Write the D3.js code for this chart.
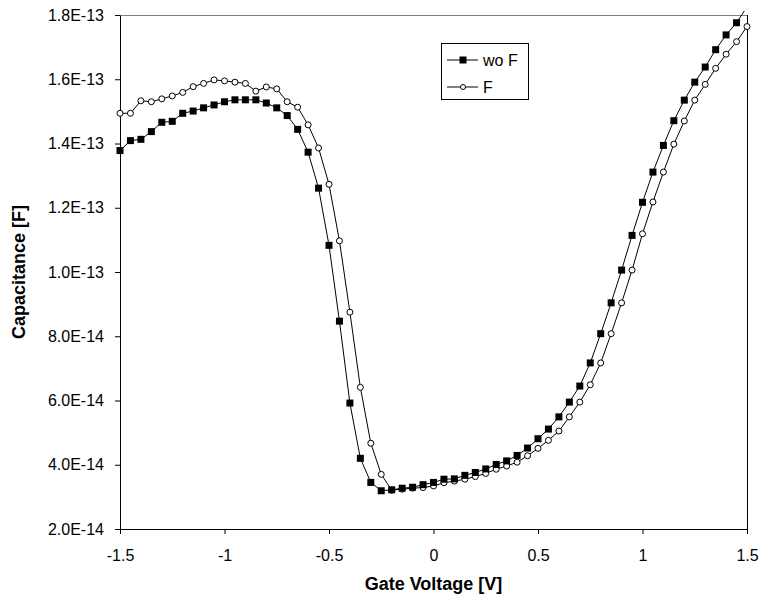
<!DOCTYPE html>
<html>
<head>
<meta charset="utf-8">
<script src="https://cdn.jsdelivr.net/npm/d3@7"></script>
<style>
  html, body { margin: 0; padding: 0; background: #fff; }
  svg { display: block; }
  text { font-family: Arial, "Liberation Sans", sans-serif; }
</style>
</head>
<body>
<svg id="chart" width="759" height="604"></svg>
<script>
// ---- data ----
const voltage = [-1.50,-1.45,-1.40,-1.35,-1.30,-1.25,-1.20,-1.15,-1.10,-1.05,
                 -1.00,-0.95,-0.90,-0.85,-0.80,-0.75,-0.70,-0.65,-0.60,-0.55,
                 -0.50,-0.45,-0.40,-0.35,-0.30,-0.25,-0.20,-0.15,-0.10,-0.05,
                  0.00, 0.05, 0.10, 0.15, 0.20, 0.25, 0.30, 0.35, 0.40, 0.45,
                  0.50, 0.55, 0.60, 0.65, 0.70, 0.75, 0.80, 0.85, 0.90, 0.95,
                  1.00, 1.05, 1.10, 1.15, 1.20, 1.25, 1.30, 1.35, 1.40, 1.45, 1.50];

const capWoF = [1.378e-13,1.409e-13,1.413e-13,1.437e-13,1.466e-13,1.469e-13,1.494e-13,1.501e-13,1.511e-13,1.520e-13,
                1.530e-13,1.536e-13,1.536e-13,1.536e-13,1.526e-13,1.511e-13,1.487e-13,1.444e-13,1.373e-13,1.261e-13,
                1.083e-13,8.47e-14,5.92e-14,4.20e-14,3.45e-14,3.19e-14,3.22e-14,3.27e-14,3.30e-14,3.38e-14,
                3.45e-14,3.55e-14,3.56e-14,3.67e-14,3.76e-14,3.87e-14,4.01e-14,4.12e-14,4.29e-14,4.52e-14,
                4.81e-14,5.11e-14,5.49e-14,5.95e-14,6.45e-14,7.17e-14,8.08e-14,9.04e-14,1.006e-13,1.114e-13,
                1.217e-13,1.311e-13,1.394e-13,1.471e-13,1.535e-13,1.591e-13,1.638e-13,1.692e-13,1.738e-13,1.776e-13,1.825e-13];

const capF =   [1.494e-13,1.494e-13,1.533e-13,1.530e-13,1.539e-13,1.548e-13,1.559e-13,1.577e-13,1.587e-13,1.598e-13,
                1.595e-13,1.591e-13,1.587e-13,1.563e-13,1.576e-13,1.570e-13,1.530e-13,1.513e-13,1.458e-13,1.386e-13,
                1.273e-13,1.097e-13,8.75e-14,6.41e-14,4.67e-14,3.70e-14,3.21e-14,3.24e-14,3.27e-14,3.29e-14,
                3.34e-14,3.44e-14,3.49e-14,3.55e-14,3.63e-14,3.73e-14,3.86e-14,3.96e-14,4.08e-14,4.28e-14,
                4.51e-14,4.76e-14,5.05e-14,5.49e-14,5.95e-14,6.49e-14,7.17e-14,8.08e-14,9.04e-14,1.006e-13,
                1.119e-13,1.218e-13,1.311e-13,1.398e-13,1.470e-13,1.535e-13,1.584e-13,1.634e-13,1.678e-13,1.717e-13,1.764e-13];

const seriesNames = ["wo F", "F"];
const xTickValues = [-1.5, -1, -0.5, 0, 0.5, 1, 1.5];
const xTickLabels = ["-1.5", "-1", "-0.5", "0", "0.5", "1", "1.5"];
const yTickValues = [2e-14, 4e-14, 6e-14, 8e-14, 1e-13, 1.2e-13, 1.4e-13, 1.6e-13, 1.8e-13];
const yTickLabels = ["2.0E-14","4.0E-14","6.0E-14","8.0E-14","1.0E-13","1.2E-13","1.4E-13","1.6E-13","1.8E-13"];
const xTitle = "Gate Voltage [V]";
const yTitle = "Capacitance [F]";

// ---- layout ----
const L = 120, R = 747, T = 15, B = 529;
const svg = d3.select("#chart");

const x = d3.scaleLinear().domain([-1.5, 1.5]).range([L, R]);
const y = d3.scaleLinear().domain([2e-14, 1.8e-13]).range([B, T]);

svg.append("defs").append("clipPath").attr("id", "clip")
  .append("rect").attr("x", 0).attr("y", 11).attr("width", 759).attr("height", 600);

// frame (top + right)
svg.append("line").attr("x1", L).attr("x2", R).attr("y1", T + 0.5).attr("y2", T + 0.5)
  .attr("stroke", "#808080").attr("stroke-width", 1);
svg.append("line").attr("x1", R + 0.5).attr("x2", R + 0.5).attr("y1", T).attr("y2", B)
  .attr("stroke", "#000").attr("stroke-width", 1);

// axes
const xAxis = d3.axisBottom(x).tickValues(xTickValues)
  .tickFormat((d, i) => xTickLabels[i]).tickSizeInner(5).tickSizeOuter(0).tickPadding(16);
const gx = svg.append("g").attr("transform", `translate(0,${B})`).call(xAxis);

const yAxis = d3.axisLeft(y).tickValues(yTickValues)
  .tickFormat((d, i) => yTickLabels[i]).tickSizeInner(5).tickSizeOuter(0).tickPadding(11);
const gy = svg.append("g").attr("transform", `translate(${L},0)`).call(yAxis);

[gx, gy].forEach(g => {
  g.select(".domain").attr("stroke", "#000").attr("stroke-width", 1);
  g.selectAll(".tick line").attr("stroke", "#000");
  g.selectAll(".tick text").attr("fill", "#000").style("font-size", "16px")
    .style("font-family", 'Arial, "Liberation Sans", sans-serif');
});

// titles
svg.append("text").attr("x", (L + R) / 2).attr("y", 590).attr("text-anchor", "middle")
  .style("font-size", "18px").style("font-weight", "bold").text(xTitle);
svg.append("text").attr("transform", `translate(25,${(T + B) / 2}) rotate(-90)`)
  .attr("text-anchor", "middle").style("font-size", "18px").style("font-weight", "bold").text(yTitle);

// series
const line = d3.line().x(d => x(d[0])).y(d => y(d[1]));
const dataWoF = voltage.map((v, i) => [v, capWoF[i]]);
const dataF = voltage.map((v, i) => [v, capF[i]]);

const plot = svg.append("g").attr("clip-path", "url(#clip)");

// F series (open circles)
plot.append("path").datum(dataF).attr("d", line).attr("fill", "none").attr("stroke", "#000").attr("stroke-width", 1);
plot.selectAll("circle.f").data(dataF).enter().append("circle").attr("class", "f")
  .attr("cx", d => x(d[0])).attr("cy", d => y(d[1])).attr("r", 3)
  .attr("fill", "#fff").attr("stroke", "#000").attr("stroke-width", 1);

// wo F series (filled squares)
const sq = 7;
plot.append("path").datum(dataWoF).attr("d", line).attr("fill", "none").attr("stroke", "#000").attr("stroke-width", 1);
plot.selectAll("rect.w").data(dataWoF).enter().append("rect").attr("class", "w")
  .attr("x", d => x(d[0]) - sq / 2).attr("y", d => y(d[1]) - sq / 2)
  .attr("width", sq).attr("height", sq).attr("fill", "#000");

// legend
const lg = svg.append("g");
lg.append("rect").attr("x", 441.5).attr("y", 43.5).attr("width", 87).attr("height", 56)
  .attr("fill", "#fff").attr("stroke", "#000").attr("stroke-width", 1);
const rows = [60, 87];
rows.forEach((ry, i) => {
  lg.append("line").attr("x1", 447).attr("x2", 478).attr("y1", ry).attr("y2", ry)
    .attr("stroke", "#000").attr("stroke-width", 1);
  if (i === 0) {
    lg.append("rect").attr("x", 463 - 3.5).attr("y", ry - 3.5).attr("width", 7).attr("height", 7).attr("fill", "#000");
  } else {
    lg.append("circle").attr("cx", 463).attr("cy", ry).attr("r", 2.5)
      .attr("fill", "#fff").attr("stroke", "#000").attr("stroke-width", 1);
  }
  lg.append("text").attr("x", 483).attr("y", ry + 6).style("font-size", "16px").text(seriesNames[i]);
});
</script>
</body>
</html>
